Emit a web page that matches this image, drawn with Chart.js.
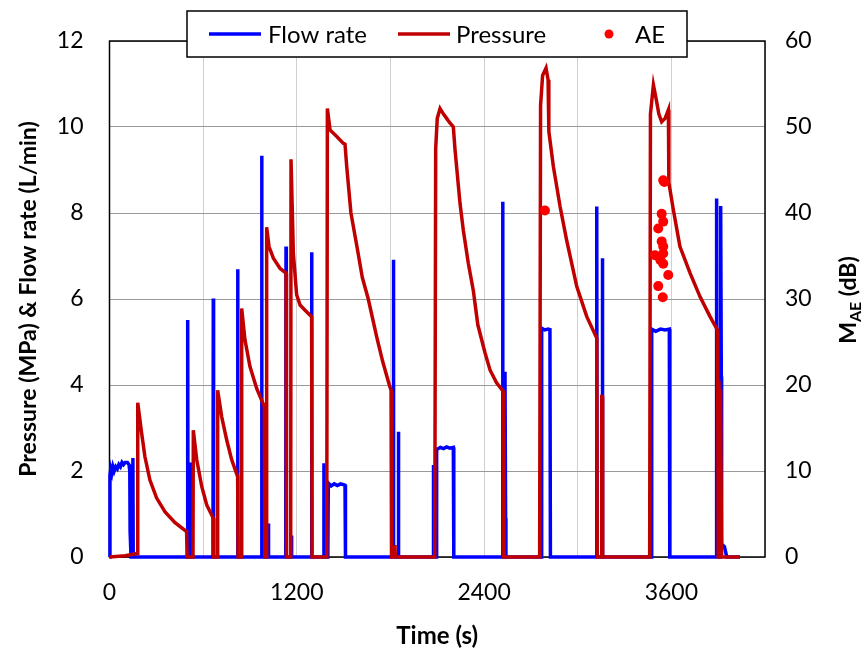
<!DOCTYPE html>
<html><head><meta charset="utf-8">
<script src="https://cdn.jsdelivr.net/npm/chart.js@4.4.0/dist/chart.umd.min.js"></script>
<style>html,body{margin:0;padding:0;background:#fff;}canvas{display:block}</style>
</head><body>
<canvas id="c" width="866" height="657"></canvas>
<script>
// ---- data ----
const seriesLabels = ['Flow rate', 'Pressure', 'AE'];
const timeTicks = [0, 1200, 2400, 3600];

const flowTime = [0,3,8,15,22,30,40,50,60,70,80,90,100,115,125,130,132,136,138,148,150,152,
  499,501,503,520,522,524,663,665,667,819,821,823,973,975,977,1015,1017,1019,1129,1131,1133,1164,1166,1168,
  1293,1295,1297,1372,1374,1376,1399,1402,1420,1440,1460,1480,1500,1509,1512,
  1817,1819,1821,1849,1851,1853,2073,2075,2077,2094,2096,2120,2140,2160,2180,2203,2206,
  2517,2519,2521,2532,2534,2538,2540,2767,2769,2790,2810,2822,2825,
  3120,3122,3124,3156,3158,3160,3472,3474,3500,3530,3560,3587,3590,
  3888,3890,3893,3914,3916,3920,3922,3940,3955,4040];
const flowRate = [0,1.9,2.05,1.95,2.1,2.0,2.1,2.05,2.15,2.1,2.2,2.15,2.2,2.2,2.15,2.0,0.6,0.6,0,0,2.3,0,
  0,5.51,0,0,2.2,0,0,6.01,0,0,6.69,0,0,9.33,0,0,0.78,0,0,7.22,0,0,0.5,0,
  0,7.09,0,0,2.18,0,0,1.72,1.65,1.7,1.66,1.7,1.68,1.67,0,
  0,6.91,0,0,2.91,0,0,2.14,0,0,2.5,2.55,2.52,2.56,2.53,2.55,0,
  0,8.26,0,0,4.31,0.9,0,0,5.32,5.28,5.3,5.29,0,
  0,8.15,0,0,6.95,0,0,5.3,5.25,5.3,5.28,5.3,0,
  0,8.34,0,0,8.16,4.2,0.3,0.24,0,0];

const pressureTime = [0,100,178,181,206,227,259,302,356,420,494,497,
  535,537,559,591,623,665,668,691,693,719,751,783,821,824,
  845,847,868,900,943,992,995,1005,1007,1022,1050,1093,1131,1134,
  1161,1163,1178,1199,1221,1253,1295,1298,
  1392,1396,1413,1456,1498,1509,1520,1547,1584,1620,1658,1712,1750,1793,1804,1807,1827,1829,1831,
  2084,2090,2100,2118,2140,2160,2180,2203,2214,2246,2267,2299,2331,2360,2406,2438,2480,2523,2526,
  2756,2762,2775,2797,2810,2814,2816,2844,2887,2929,2994,3058,3122,3125,3152,3154,3158,3160,
  3461,3466,3485,3500,3520,3538,3560,3581,3584,3613,3655,3720,3784,3848,3895,3897,3900,3905,3910,3915,3922,4040];
const pressure = [0,0.03,0.08,3.59,2.88,2.33,1.79,1.37,1.05,0.8,0.59,0,
  0,2.95,2.26,1.64,1.21,0.9,0,0,3.88,3.26,2.72,2.26,1.87,0,
  0,5.78,5.05,4.43,3.92,3.5,0,0,7.67,7.22,6.95,6.71,6.6,0,
  0,9.25,7.06,6.1,5.86,5.74,5.59,0,
  0,10.43,9.93,9.78,9.62,9.6,9.08,8.0,7.25,6.5,6.0,5.12,4.55,4.0,3.88,0,0,0.28,0,
  0,9.5,10.2,10.43,10.3,10.2,10.1,10.0,9.47,8.22,7.6,6.83,6.2,5.4,4.75,4.35,4.05,3.85,0,
  0,10.5,11.2,11.37,11.1,10.9,9.9,9.08,8.15,7.37,6.29,5.59,5.09,0,0,3.73,3.73,0,
  0,10.3,10.98,10.7,10.3,10.12,10.2,10.4,8.7,8.07,7.22,6.6,6.05,5.59,5.28,4.2,0,4.1,0,3.9,0,0];

const aeTime = [2790,3548,3555,3538,3548,3516,3538,3548,3495,3548,3530,3548,3580,3516,3545];
const aeAmplitude = [40.3,43.8,43.6,39.9,39.0,38.2,36.7,36.1,35.1,35.3,34.5,34.1,32.8,31.5,30.2];

// ---- chart ----
const FONT = 'Lato';
Chart.defaults.font.family = FONT;
Chart.defaults.color = '#000';

function pts(xs, ys) { return xs.map((x, i) => ({ x: x, y: ys[i] })); }

const COLORS = ['#0000ff', '#c00000', '#ff0000'];

const frame = {
  id: 'frame',
  beforeDatasetsDraw(chart) {
    const a = chart.chartArea, ctx = chart.ctx;
    ctx.save();
    ctx.strokeStyle = '#000';
    ctx.lineWidth = 1.5;
    ctx.strokeRect(a.left, a.top, a.right - a.left, a.bottom - a.top);
    ctx.restore();
  },
  afterDraw(chart) {
    const ctx = chart.ctx;
    // legend box
    ctx.save();
    ctx.fillStyle = '#fff';
    ctx.fillRect(187, 11, 500, 46);
    ctx.strokeStyle = '#000';
    ctx.lineWidth = 1.5;
    ctx.strokeRect(187, 11, 500, 46);
    ctx.font = '24px ' + FONT;
    ctx.textBaseline = 'middle';
    ctx.fillStyle = '#000';
    const cy = 34;
    const items = [
      { kind: 'line', x0: 209, x1: 261, tx: 268 },
      { kind: 'line', x0: 398, x1: 450, tx: 456 },
      { kind: 'point', cx: 609, tx: 635 }
    ];
    items.forEach((it, i) => {
      const ds = chart.data.datasets.find(d => d.label === seriesLabels[i]);
      if (it.kind === 'line') {
        ctx.strokeStyle = ds.borderColor;
        ctx.lineWidth = 3.5;
        ctx.beginPath(); ctx.moveTo(it.x0, cy); ctx.lineTo(it.x1, cy); ctx.stroke();
      } else {
        ctx.fillStyle = ds.backgroundColor;
        ctx.beginPath(); ctx.arc(it.cx, cy, 4.5, 0, Math.PI * 2); ctx.fill();
      }
      ctx.fillStyle = '#000';
      ctx.textAlign = 'left';
      ctx.fillText(ds.label, it.tx, cy + 1);
    });
    // right axis title with subscript
    ctx.translate(849, 300);
    ctx.rotate(-Math.PI / 2);
    const big = 'bold 23px ' + FONT, small = 'bold 16px ' + FONT;
    ctx.font = big; const wM = ctx.measureText('M').width; const wT = ctx.measureText(' (dB)').width;
    ctx.font = small; const wS = ctx.measureText('AE').width;
    let x = -(wM + wS + wT) / 2;
    ctx.textAlign = 'left';
    ctx.textBaseline = 'middle';
    ctx.font = big; ctx.fillText('M', x, 0); x += wM;
    ctx.font = small; ctx.fillText('AE', x, 7); x += wS;
    ctx.font = big; ctx.fillText(' (dB)', x, 0);
    ctx.restore();
  }
};

new Chart(document.getElementById('c'), {
  type: 'line',
  data: {
    datasets: [
      { label: seriesLabels[2], data: pts(aeTime, aeAmplitude), yAxisID: 'y1', showLine: false,
        pointRadius: 5, pointHoverRadius: 5, backgroundColor: COLORS[2], borderColor: COLORS[2], borderWidth: 0, order: 0 },
      { label: seriesLabels[1], data: pts(pressureTime, pressure), yAxisID: 'y', borderColor: COLORS[1],
        backgroundColor: COLORS[1], borderWidth: 3.5, pointRadius: 0, tension: 0, clip: 4, order: 1 },
      { label: seriesLabels[0], data: pts(flowTime, flowRate), yAxisID: 'y', borderColor: COLORS[0],
        backgroundColor: COLORS[0], borderWidth: 3.5, pointRadius: 0, tension: 0, clip: 4, order: 2 }
    ]
  },
  options: {
    responsive: false,
    animation: false,
    devicePixelRatio: 1,
    layout: { padding: { top: 41, left: 0, right: 0, bottom: 0 } },
    plugins: { legend: { display: false }, tooltip: { enabled: false } },
    scales: {
      x: {
        type: 'linear', min: 0, max: 4200,
        afterFit(s) { s.height = 100; },
        ticks: { stepSize: 600, autoSkip: false, maxRotation: 0, padding: 22, font: { size: 23 }, color: '#000',
          callback: v => timeTicks.includes(v) ? String(v) : '' },
        grid: { color: '#d0d0d0', lineWidth: 1, drawTicks: false },
        border: { display: false },
        title: { display: true, text: 'Time (s)', font: { size: 24, weight: 'bold' }, color: '#000', padding: { top: 0, bottom: 6 } }
      },
      y: {
        position: 'left', min: 0, max: 12,
        afterFit(s) { s.width = 109.5; },
        ticks: { stepSize: 2, padding: 26, font: { size: 23 }, color: '#000' },
        grid: { color: '#9a9a9a', lineWidth: 1, drawTicks: false },
        border: { display: false },
        title: { display: true, text: 'Pressure (MPa) & Flow rate (L/min)', font: { size: 23, weight: 'bold' }, color: '#000', padding: { top: 15, bottom: 0 } }
      },
      y1: {
        position: 'right', min: 0, max: 60,
        afterFit(s) { s.width = 101; },
        ticks: { stepSize: 10, padding: 20, font: { size: 23 }, color: '#000' },
        grid: { drawOnChartArea: false, drawTicks: false },
        border: { display: false },
        title: { display: false }
      }
    }
  },
  plugins: [frame]
});
</script>
</body></html>
